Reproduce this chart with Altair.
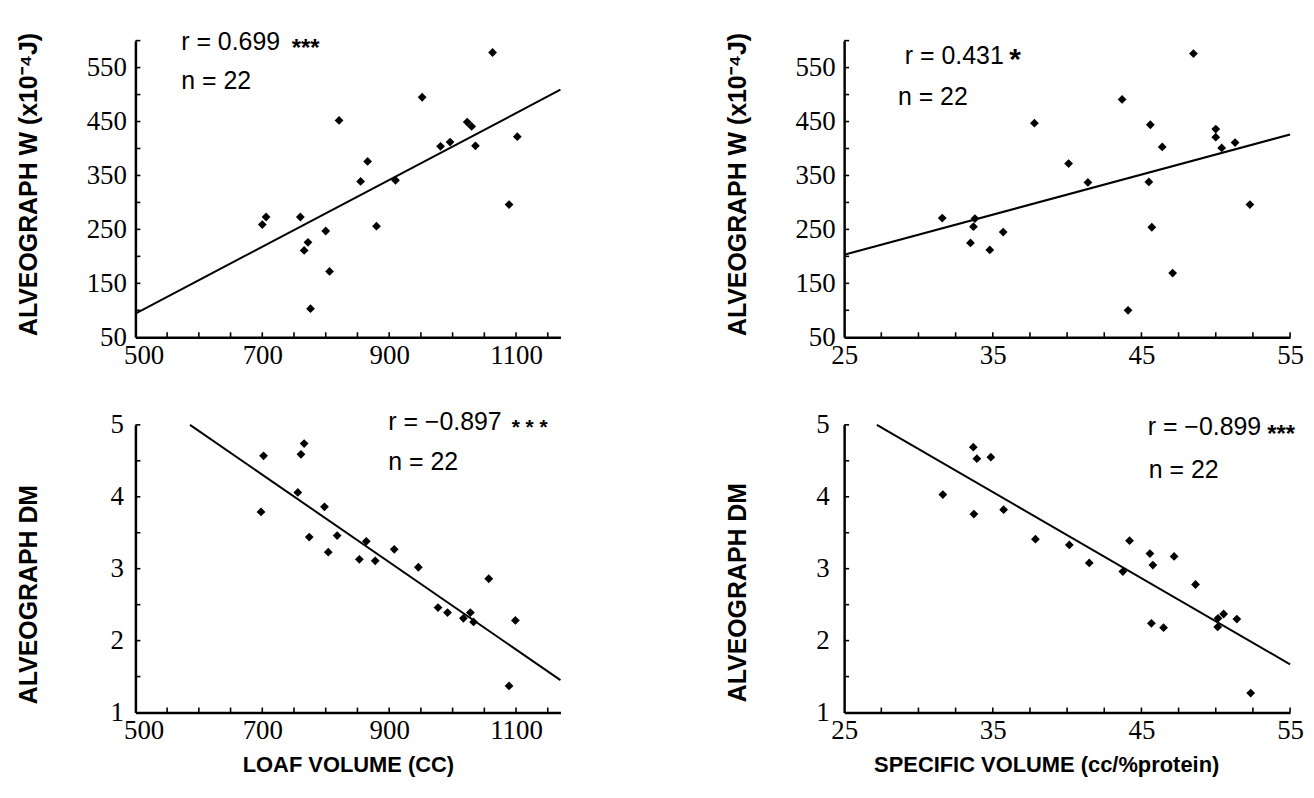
import altair as alt
import pandas as pd

# ---------------- data ----------------
# Top-left: Loaf volume (cc) vs Alveograph W (x10^-4 J)
lv_w_x = [1063, 952, 821, 1023, 1030, 1102, 981, 996, 1036, 866, 855, 910, 1089,
          700, 706, 760, 880, 800, 766, 772, 806, 776]
lv_w_y = [578, 495, 452, 449, 441, 422, 404, 412, 405, 376, 339, 341, 296,
          259, 273, 273, 256, 247, 211, 226, 172, 103]
lv_w_line_x = [500, 1170]
lv_w_line_y = [94, 509]

# Top-right: Specific volume (cc/%protein) vs Alveograph W
sv_w_x = [48.5, 43.7, 37.8, 45.6, 50.0, 50.0, 50.4, 51.3, 46.4, 40.1, 41.4, 45.5, 52.3,
          31.6, 33.8, 33.7, 45.7, 35.7, 33.5, 34.8, 47.1, 44.1]
sv_w_y = [576, 491, 447, 444, 436, 421, 401, 411, 403, 372, 337, 338, 296,
          271, 270, 255, 254, 245, 225, 212, 169, 100]
sv_w_line_x = [25, 55]
sv_w_line_y = [203, 426]

# Bottom-left: Loaf volume vs Alveograph DM
lv_dm_x = [766, 761, 702, 756, 798, 698, 774, 818, 864, 908, 804, 853, 878,
           946, 1057, 977, 992, 1028, 1017, 1033, 1099, 1089]
lv_dm_y = [4.74, 4.59, 4.57, 4.06, 3.86, 3.79, 3.44, 3.46, 3.38, 3.27, 3.23, 3.13, 3.11,
           3.02, 2.86, 2.46, 2.39, 2.39, 2.31, 2.26, 2.28, 1.37]
lv_dm_line_x = [586, 1170]
lv_dm_line_y = [5.0, 1.45]

# Bottom-right: Specific volume vs Alveograph DM
sv_dm_x = [33.69, 33.93, 34.87, 31.64, 35.73, 33.73, 37.87, 44.2, 40.15, 45.57, 47.2,
           41.49, 45.77, 43.75, 48.64, 45.67, 46.49, 50.15, 50.13, 50.53, 51.42, 52.35]
sv_dm_y = [4.69, 4.53, 4.55, 4.03, 3.82, 3.76, 3.41, 3.39, 3.33, 3.21, 3.17,
           3.08, 3.05, 2.96, 2.78, 2.24, 2.18, 2.31, 2.19, 2.37, 2.30, 1.27]
sv_dm_line_x = [27.2, 55]
sv_dm_line_y = [5.0, 1.67]

# axis labels and minor ticks
lv_labels = [500, 700, 900, 1100]
lv_minor = [550, 600, 650, 700, 750, 800, 850, 900, 950, 1000, 1050, 1100, 1150]
sv_labels = [25, 35, 45, 55]
sv_minor = [27.5, 30, 32.5, 35, 37.5, 40, 42.5, 45, 47.5, 50, 52.5, 55]
w_labels = [50, 150, 250, 350, 450, 550]
w_minor = [100, 150, 200, 250, 300, 350, 400, 450, 500, 550, 600]
dm_labels = [1, 2, 3, 4, 5]
dm_minor = [1.5, 2, 2.5, 3, 3.5, 4, 4.5, 5]

W_TITLE = "ALVEOGRAPH W (x10\u207b\u2074J)"
DM_TITLE = "ALVEOGRAPH DM"

SERIF = "Liberation Serif"
SANS = "Liberation Sans"


def panel(xv, yv, lx, ly, xdom, ydom, xlab, ylab, xmin, ymin, w, h,
          ytitle, ytitle_y, xtitle, xtitle_x, notes, xflush, ypad):
    xaxis_kw = dict(values=xlab, ticks=False, tickSize=0, grid=False,
                    domainColor="black", domainWidth=2.5,
                    labelFont=SERIF, labelFontSize=27, labelColor="black",
                    labelPadding=5, labelOverlap=False, format="d")
    if xflush:
        xaxis_kw.update(labelFlush=True, labelFlushOffset=12)
    else:
        xaxis_kw.update(labelFlush=False)
    if xtitle:
        xaxis_kw.update(titleFont=SANS, titleFontSize=22, titleFontWeight="bold",
                        titleColor="black", titlePadding=11)
        if xtitle_x is not None:
            xaxis_kw["titleX"] = xtitle_x
    yaxis_kw = dict(values=ylab, ticks=False, tickSize=0, grid=False,
                    domainColor="black", domainWidth=2.5,
                    labelFont=SERIF, labelFontSize=27, labelColor="black",
                    labelPadding=ypad, labelOverlap=False, format="d",
                    titleFont=SANS, titleFontSize=25, titleFontWeight="bold",
                    titleColor="black", titleX=-94, titleY=ytitle_y)
    xs = alt.Scale(domain=xdom, nice=False, zero=False)
    ys = alt.Scale(domain=ydom, nice=False, zero=False)
    X = alt.X("x:Q", scale=xs, axis=alt.Axis(**xaxis_kw),
              title=xtitle if xtitle else None)
    Y = alt.Y("y:Q", scale=ys, axis=alt.Axis(**yaxis_kw), title=ytitle)

    pts = alt.Chart(pd.DataFrame({"x": xv, "y": yv})).mark_point(
        shape="diamond", filled=True, size=78, color="black", opacity=1
    ).encode(x=X, y=Y)
    line = alt.Chart(pd.DataFrame({"x": lx, "y": ly})).mark_line(
        color="black", strokeWidth=2
    ).encode(x=X, y=Y)
    xt = alt.Chart(pd.DataFrame({"x": xmin})).mark_rule(
        color="black", strokeWidth=1.6
    ).encode(x=X, y=alt.value(h), y2=alt.value(h - 5))
    yt = alt.Chart(pd.DataFrame({"y": ymin})).mark_rule(
        color="black", strokeWidth=1.6
    ).encode(y=Y, x=alt.value(0), x2=alt.value(5))
    layers = [pts, line, xt, yt]
    for txt, px, py, fs, fw in notes:
        layers.append(
            alt.Chart(pd.DataFrame({"t": [txt]})).mark_text(
                align="left", baseline="alphabetic", font=SANS, fontSize=fs,
                fontWeight=fw, color="black"
            ).encode(text="t:N", x=alt.value(px), y=alt.value(py))
        )
    return alt.layer(*layers).properties(width=w, height=h)


TOP_H = 298
BOT_H = 289
LEFT_W = 427
RIGHT_W = 448

p1 = panel(lv_w_x, lv_w_y, lv_w_line_x, lv_w_line_y, [500, 1170], [50, 600],
           lv_labels, w_labels, lv_minor, w_minor, LEFT_W, TOP_H,
           W_TITLE, 144, None, None,
           [("r = 0.699", 46, 9, 25, "normal"), ("***", 157, 15, 24, "bold"),
            ("n = 22", 46, 49, 25, "normal")], True, 9)
p2 = panel(sv_w_x, sv_w_y, sv_w_line_x, sv_w_line_y, [25, 55], [50, 600],
           sv_labels, w_labels, sv_minor, w_minor, RIGHT_W, TOP_H,
           W_TITLE, 144, None, None,
           [("r = 0.431", 61, 23, 25, "normal"), ("*", 166, 29, 30, "bold"),
            ("n = 22", 54, 65, 25, "normal")], False, 9)
p3 = panel(lv_dm_x, lv_dm_y, lv_dm_line_x, lv_dm_line_y, [500, 1170], [1, 5],
           lv_labels, dm_labels, lv_minor, dm_minor, LEFT_W, BOT_H,
           DM_TITLE, 170, "LOAF VOLUME (CC)", None,
           [("r = \u22120.897", 254, 5, 25, "normal"), ("* * *", 378, 9, 21, "bold"),
            ("n = 22", 254, 45, 25, "normal")], True, 12)
p4 = panel(sv_dm_x, sv_dm_y, sv_dm_line_x, sv_dm_line_y, [25, 55], [1, 5],
           sv_labels, dm_labels, sv_minor, dm_minor, RIGHT_W, BOT_H,
           DM_TITLE, 168, "SPECIFIC VOLUME (cc/%protein)", 203,
           [("r = \u22120.899", 305, 10, 25, "normal"), ("***", 425, 17, 24, "bold"),
            ("n = 22", 306, 53, 25, "normal")], False, 15)

chart = alt.concat(
    p1, p2, p3, p4, columns=2,
    spacing={"row": 88, "column": 285}, bounds="flush",
).properties(
    padding={"left": 8, "top": 20, "right": 2, "bottom": 2},
    background="white",
).configure_view(stroke=None)

chart.save("out.html", embed_options={"renderer": "svg", "actions": False})
